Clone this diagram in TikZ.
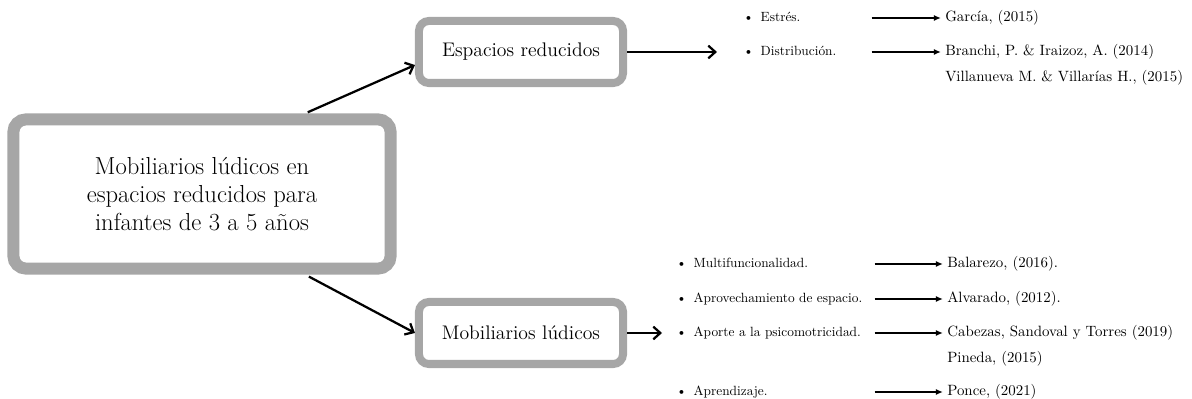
\documentclass[tikz,border=0pt]{standalone}
\usepackage{tikz}
\usetikzlibrary{arrows.meta,positioning,calc}
\definecolor{boxgray}{RGB}{166,166,166}
\tikzset{
  Mbox/.style={draw=boxgray, line width=8.5pt, rounded corners=9pt, align=center,
               font=\fontsize{17.5}{19.8}\selectfont, minimum width=9.43cm,
               minimum height=3.73cm, fill=white},
  Tbox/.style={draw=boxgray, line width=5.7pt, rounded corners=7pt, align=center,
               font=\fontsize{14}{16}\selectfont, minimum width=5.1cm,
               minimum height=1.55cm, fill=white},
  Item/.style={font=\fontsize{9.5}{11}\selectfont, inner sep=0pt, anchor=west,
               align=left, text height=1.6ex, text depth=.45ex},
  Ref/.style={font=\fontsize{10.6}{12}\selectfont, inner sep=0pt, anchor=west,
              text height=1.6ex, text depth=.45ex},
  Barr/.style={-{Straight Barb[length=5pt,width=9pt,line width=1.6pt]}, line width=1.6pt},
  Sarr/.style={-{Latex[length=5pt,width=4.5pt]}, line width=0.9pt}
}
\newcommand{\itm}[1]{\textbullet\hspace{5pt}#1}

\begin{document}
\begin{tikzpicture}[x=0.025cm, y=-0.025cm]
  \useasboundingbox (0,0) rectangle (1192,399);

  \node[Mbox] (main) at (202,194)
    {Mobiliarios lúdicos en\\espacios reducidos para\\infantes de 3 a 5 años};
  \node[Tbox] (esp) at (521,52) {Espacios reducidos};
  \node[Tbox] (mob) at (521,333) {Mobiliarios lúdicos};

  % espacios reducidos
  \node[Item, text width=3.2cm] (est) at (743,18) {\itm{Estrés.}};
  \node[Item, text width=3.2cm] (dis) at (743,52) {\itm{Distribución.}};
  \node[Ref] (gar) at (945,18) {García, (2015)};
  \node[Ref] (bra) at (945,52) {Branchi, P. \& Iraizoz, A. (2014)};
  \node[Ref] (vil) at (945,78) {Villanueva M. \& Villarías H., (2015)};

  % mobiliarios ludicos
  \node[Item, text width=4.95cm] (mul) at (676,264) {\itm{Multifuncionalidad.}};
  \node[Item, text width=4.95cm] (apr) at (676,299) {\itm{Aprovechamiento de espacio.}};
  \node[Item, text width=4.95cm] (psi) at (676,333) {\itm{Aporte a la psicomotricidad.}};
  \node[Item, text width=4.95cm] (apz) at (676,392) {\itm{Aprendizaje.}};
  \node[Ref] (bal) at (947,264) {Balarezo, (2016).};
  \node[Ref] (alv) at (947,299) {Alvarado, (2012).};
  \node[Ref] (cab) at (947,333) {Cabezas, Sandoval y Torres (2019)};
  \node[Ref] (pin) at (947,359) {Pineda, (2015)};
  \node[Ref] (pon) at (947,392) {Ponce, (2021)};

  \draw[Barr, shorten <=2pt] (main.38) -- (esp.187);
  \draw[Barr, shorten <=3pt] (main.-38) -- (mob.west);
  \draw[Barr, shorten >=0.65cm] (esp.east) -- (dis.west);
  \draw[Barr, shorten >=0.35cm] (mob.east) -- (psi.west);

  \draw[Sarr, shorten >=3pt] (est.east) -- (gar.west);
  \draw[Sarr, shorten >=3pt] (dis.east) -- (bra.west);
  \draw[Sarr, shorten >=3pt] (mul.east) -- (bal.west);
  \draw[Sarr, shorten >=3pt] (apr.east) -- (alv.west);
  \draw[Sarr, shorten >=3pt] (psi.east) -- (cab.west);
  \draw[Sarr, shorten >=3pt] (apz.east) -- (pon.west);
\end{tikzpicture}
\end{document}
